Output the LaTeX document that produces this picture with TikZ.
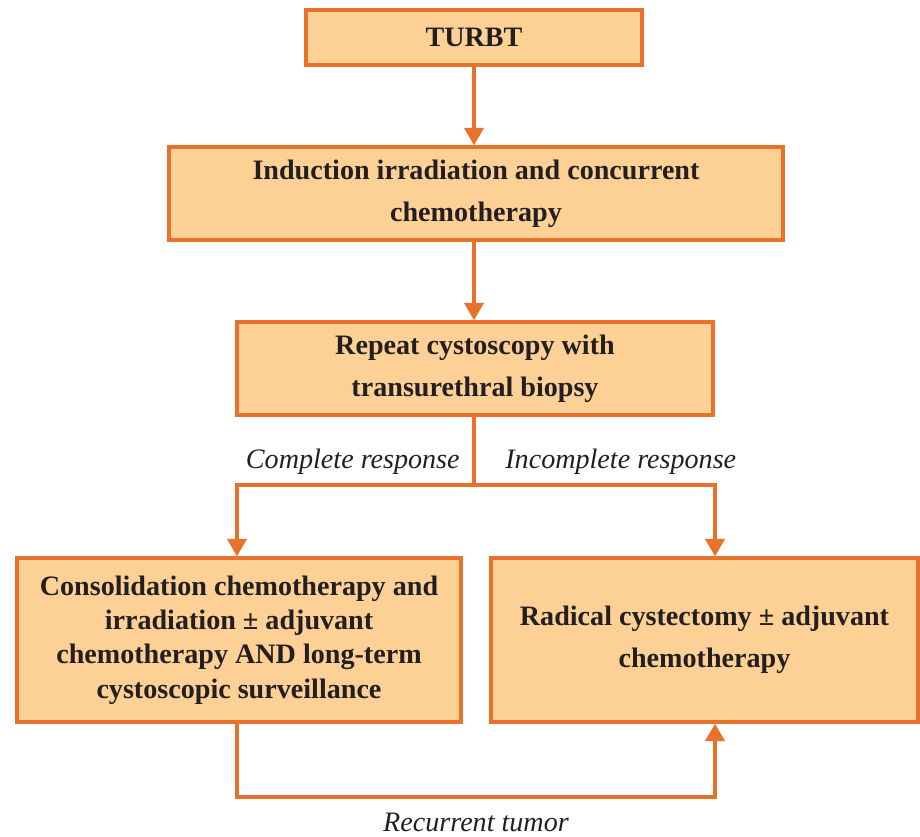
\documentclass[tikz,border=0pt]{standalone}
\usepackage{fontspec}
\setmainfont{Liberation Serif}
\usetikzlibrary{arrows.meta}
\definecolor{boxline}{HTML}{E8712C}
\definecolor{boxfill}{HTML}{FDD096}
\definecolor{ink}{HTML}{231F20}
\begin{document}
\begin{tikzpicture}[x=0.02cm,y=-0.02cm,
  stepbox/.style={draw=boxline,fill=boxfill,line width=1.9pt,inner sep=0pt,
    align=center,text=ink,font=\bfseries\fontsize{16}{23.8}\selectfont},
  link/.style={draw=boxline,line width=1.8pt},
  flow/.style={link,-{Triangle[length=10pt,width=11pt]}},
  lbl/.style={text=ink,font=\itshape\fontsize{16}{19}\selectfont,inner sep=0pt}]
\useasboundingbox (0,0) rectangle (920,836);
% boxes
\node[stepbox,minimum width=6.72cm,minimum height=1.1cm] (turbt) at (474,37.5) {TURBT};
\node[stepbox,minimum width=12.28cm,minimum height=1.86cm] (induct) at (476,193.5)
  {Induction irradiation and concurrent\\chemotherapy};
\node[stepbox,minimum width=9.52cm,minimum height=1.86cm] (repeat) at (475,368.5)
  {Repeat cystoscopy with\\transurethral biopsy};
\node[stepbox,minimum width=8.88cm,minimum height=3.28cm,
  font=\bfseries\fontsize{16}{19.5}\selectfont] (consol) at (239,640)
  {Consolidation chemotherapy and\\irradiation ± adjuvant\\chemotherapy AND long-term\\cystoscopic surveillance};
\node[stepbox,minimum width=8.54cm,minimum height=3.28cm] (radical) at (704.5,640)
  {Radical cystectomy ± adjuvant\\chemotherapy};
% connectors
\coordinate (split) at (474,485);
\coordinate (loop) at (0,797);
\draw[flow] (turbt) -- (turbt |- induct.north);
\draw[flow] (induct.south -| turbt) -- (repeat.north -| turbt);
\draw[link] (repeat.south -| split) -- (split);
\draw[flow] (split) -| (consol.north -| 237,0);
\draw[flow] (split) -| (radical.north -| 715,0);
\draw[flow] (consol.south -| 237,0) -- (loop -| 237,0) -- (loop -| 715,0) -- (radical.south -| 715,0);
% labels
\node[lbl,anchor=east] (cr) at (460,462) {Complete response};
\node[lbl,anchor=west] (ir) at (505,462) {Incomplete response};
\node[lbl] (rt) at (476,822) {Recurrent tumor};
\end{tikzpicture}
\end{document}
